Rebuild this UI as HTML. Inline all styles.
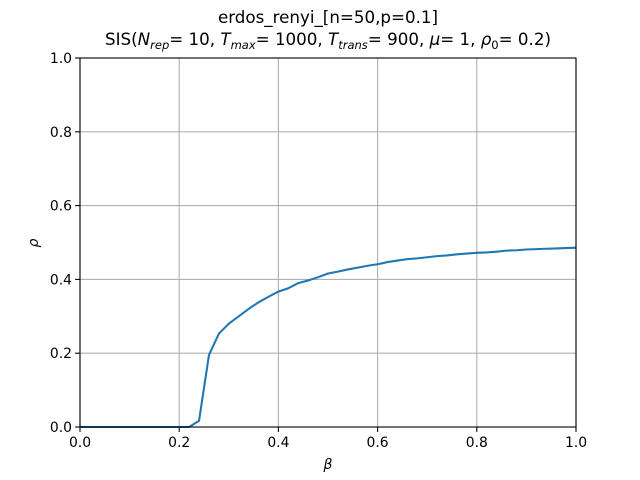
<!DOCTYPE html>
<html><head><meta charset="utf-8"><style>
html,body{margin:0;padding:0;background:#fff;}
svg{display:block;font-family:"DejaVu Sans","Liberation Sans",sans-serif;}
</style></head><body>
<svg id="chart" width="640" height="480" viewBox="0 0 640 480">
<text x="328" y="23" text-anchor="middle" font-size="16.7">erdos_renyi_[n=50,p=0.1]</text>
<text x="328" y="45" text-anchor="middle" font-size="16.7">SIS(<tspan font-style="italic">N</tspan><tspan font-size="11.5" dy="4" font-style="italic">rep</tspan><tspan dy="-4">= 10, </tspan><tspan font-style="italic">T</tspan><tspan font-size="11.5" dy="4" font-style="italic">max</tspan><tspan dy="-4">= 1000, </tspan><tspan font-style="italic">T</tspan><tspan font-size="11.5" dy="4" font-style="italic">trans</tspan><tspan dy="-4">= 900, </tspan><tspan font-style="italic">μ</tspan><tspan>= 1, </tspan><tspan font-style="italic">ρ</tspan><tspan font-size="11.5" dy="4">0</tspan><tspan dy="-4">= 0.2)</tspan></text>
<g id="grid"></g>
<g id="ticks"></g>
<path id="line" fill="none" stroke="#1f77b4" stroke-width="2.08" stroke-linejoin="round"/>
<rect x="80" y="58" width="496" height="369" fill="none" stroke="#000" stroke-width="1.1"/>
<text x="328" y="469" text-anchor="middle" font-size="14" font-style="italic">β</text>
<text x="38" y="243" text-anchor="middle" font-size="14" font-style="italic" transform="rotate(-90 38 243)">ρ</text>
</svg>
<script>
const betas = [0,0.02,0.04,0.06,0.08,0.1,0.12,0.14,0.16,0.18,0.2,0.22,0.24,0.26,0.28,0.3,0.32,0.34,0.36,0.38,0.4,0.42,0.44,0.46,0.48,0.5,0.52,0.54,0.56,0.58,0.6,0.62,0.64,0.66,0.68,0.7,0.72,0.74,0.76,0.78,0.8,0.82,0.84,0.86,0.88,0.9,0.92,0.94,0.96,0.98,1.0];
const rhoValues = [0,0,0,0,0,0,0,0,0,0,0,0,0.017,0.195,0.253,0.28,0.30,0.32,0.338,0.353,0.367,0.376,0.39,0.397,0.406,0.416,0.421,0.427,0.432,0.437,0.441,0.447,0.451,0.455,0.457,0.46,0.463,0.465,0.468,0.47,0.472,0.473,0.475,0.478,0.479,0.481,0.482,0.483,0.484,0.485,0.486];
const xTicks = ["0.0","0.2","0.4","0.6","0.8","1.0"];
const yTicks = ["0.0","0.2","0.4","0.6","0.8","1.0"];
const X0=80,X1=576,Y0=427,Y1=58;
const sx=v=>X0+(X1-X0)*v;
const sy=v=>Y0-(Y0-Y1)*v;
const NS="http://www.w3.org/2000/svg";
const grid=document.getElementById('grid'), ticks=document.getElementById('ticks');
function mk(tag,attrs,parent){const e=document.createElementNS(NS,tag);for(const k in attrs)e.setAttribute(k,attrs[k]);parent.appendChild(e);return e;}
xTicks.forEach(t=>{const v=parseFloat(t),x=sx(v);
 const g=mk('line',{x1:x,x2:x,y1:Y1,y2:Y0,stroke:'#b0b0b0','stroke-width':1.1},grid);
 
 
 const tk=mk('line',{x1:x,x2:x,y1:Y0,y2:Y0+4.9,stroke:'#000','stroke-width':1.1},ticks);
 
 
 const tx=mk('text',{x:x,y:Y0+20,'text-anchor':'middle','font-size':13.9},ticks);tx.textContent=t;
 
 
});
yTicks.forEach(t=>{const v=parseFloat(t),y=sy(v);
 const g=mk('line',{x1:X0,x2:X1,y1:y,y2:y,stroke:'#b0b0b0','stroke-width':1.1},grid);
 
 
 const tk=mk('line',{x1:X0-4.9,x2:X0,y1:y,y2:y,stroke:'#000','stroke-width':1.1},ticks);
 
 
 const tx=mk('text',{x:X0-8,y:y+5,'text-anchor':'end','font-size':13.9},ticks);tx.textContent=t;
 
 
});
document.getElementById('line').setAttribute('d',betas.map((b,i)=>(i?'L':'M')+sx(b).toFixed(2)+','+sy(rhoValues[i]).toFixed(2)).join(''));
</script>
</body></html>
